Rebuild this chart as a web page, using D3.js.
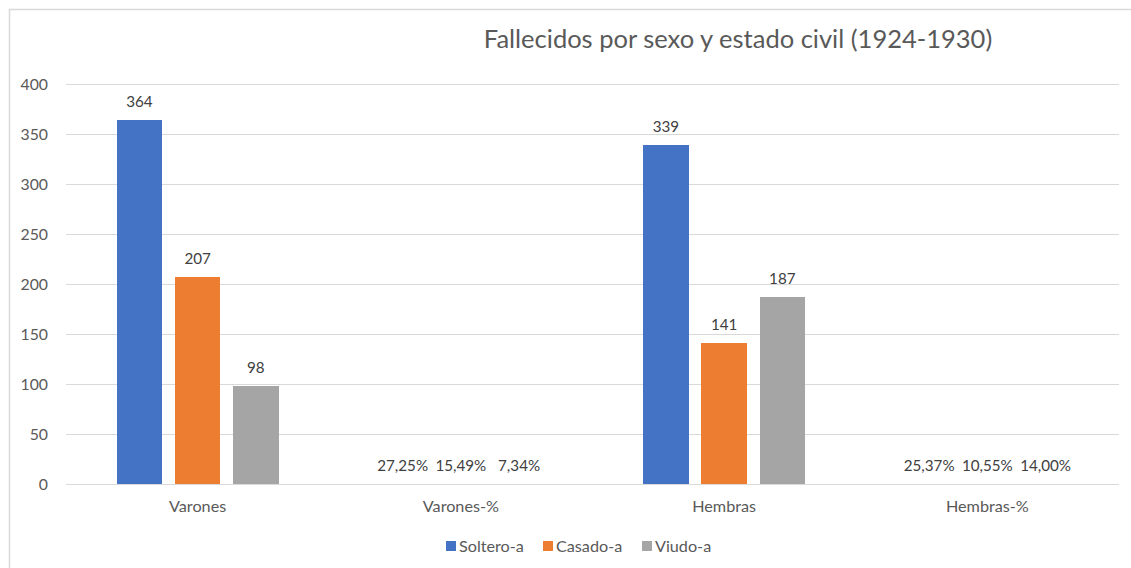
<!DOCTYPE html>
<html>
<head>
<meta charset="utf-8">
<script src="https://cdn.jsdelivr.net/npm/d3@7"></script>
<style>
body { margin: 0; background: #fff; }
svg text { font-family: Lato, "Open Sans", sans-serif; }
</style>
</head>
<body>
<svg id="chart" width="1131" height="568"></svg>
<script>
// datos
var categories = ["Varones", "Varones-%", "Hembras", "Hembras-%"];
var series = ["Soltero-a", "Casado-a", "Viudo-a"];
var soltero = [364, 0.2725, 339, 0.2537];
var casado = [207, 0.1549, 141, 0.1055];
var viudo = [98, 0.0734, 187, 0.14];
var yTicks = [0, 50, 100, 150, 200, 250, 300, 350, 400];
var colors = ["#4472C4", "#ED7D31", "#A5A5A5"];

var values = [soltero, casado, viudo];
var rows = categories.map(function(c, i){
	return { cat: c, pct: c.indexOf("%") > -1, vals: series.map(function(s, j){ return { s: s, v: values[j][i] }; }) };
});

var svg = d3.select("#chart");

// marco
svg.append("rect")
	.attr("x", 9.5).attr("y", 9.5)
	.attr("width", 1140).attr("height", 580)
	.attr("fill", "none").attr("stroke", "#D9D9D9").attr("stroke-width", 1.5);

var x0 = d3.scaleBand().domain(categories).range([66, 1119]).padding(0);
var x1 = d3.scaleBand().domain(series).range([0, x0.bandwidth()]).paddingInner(0.218).paddingOuter(0.87);
var y = d3.scaleLinear().domain([0, 400]).range([484, 84]);

// lineas de cuadricula
svg.append("g").selectAll("line").data(yTicks).enter().append("line")
	.attr("x1", 66).attr("x2", 1119)
	.attr("y1", function(d){ return y(d) + 0.5; })
	.attr("y2", function(d){ return y(d) + 0.5; })
	.attr("stroke", "#D9D9D9").attr("stroke-width", 1);

var yAxis = svg.append("g").attr("transform", "translate(66,0)")
	.call(d3.axisLeft(y).tickValues(yTicks).tickSize(0).tickPadding(18));
yAxis.select(".domain").remove();
yAxis.selectAll("text").attr("fill", "#595959").attr("font-size", "15.8px");

var xAxis = svg.append("g").attr("transform", "translate(0,484)")
	.call(d3.axisBottom(x0).tickSize(0).tickPadding(16));
xAxis.select(".domain").remove();
xAxis.selectAll("text").attr("fill", "#595959").attr("font-size", "16.2px");

var fmtPct = d3.formatLocale({ decimal: ",", thousands: ".", grouping: [3], currency: ["", "€"] }).format(".2%");

var groups = svg.append("g").selectAll("g").data(rows).enter().append("g")
	.attr("transform", function(d){ return "translate(" + x0(d.cat) + ",0)"; });

groups.selectAll("rect").data(function(d){ return d.vals; }).enter().append("rect")
	.attr("x", function(d){ return x1(d.s); })
	.attr("width", x1.bandwidth())
	.attr("y", function(d){ return y(d.v); })
	.attr("height", function(d){ return y(0) - y(d.v); })
	.attr("shape-rendering", "crispEdges")
	.attr("fill", function(d, i){ return colors[i]; });

groups.each(function(r){
	d3.select(this).selectAll("text.lbl").data(r.vals).enter().append("text")
		.attr("class", "lbl")
		.attr("x", function(d){ return x1(d.s) + x1.bandwidth() / 2; })
		.attr("y", function(d){ return y(d.v) - 13; })
		.attr("text-anchor", "middle")
		.attr("fill", "#404040").attr("font-size", "15.2px")
		.text(function(d){ return r.pct ? fmtPct(d.v) : d.v; });
});

// titulo
svg.append("text")
	.attr("x", 738).attr("y", 48)
	.attr("text-anchor", "middle")
	.attr("fill", "#595959").attr("font-size", "25.5px")
	.text("Fallecidos por sexo y estado civil (1924-1930)");

// leyenda
var legX = [446, 543, 642];
var leg = svg.append("g").selectAll("g").data(series).enter().append("g")
	.attr("transform", function(d, i){ return "translate(" + legX[i] + ",541)"; });
leg.append("rect").attr("width", 10).attr("height", 10)
	.attr("fill", function(d, i){ return colors[i]; });
leg.append("text").attr("x", 13).attr("y", 11)
	.attr("fill", "#595959").attr("font-size", "16.2px")
	.text(function(d){ return d; });
</script>
</body>
</html>
